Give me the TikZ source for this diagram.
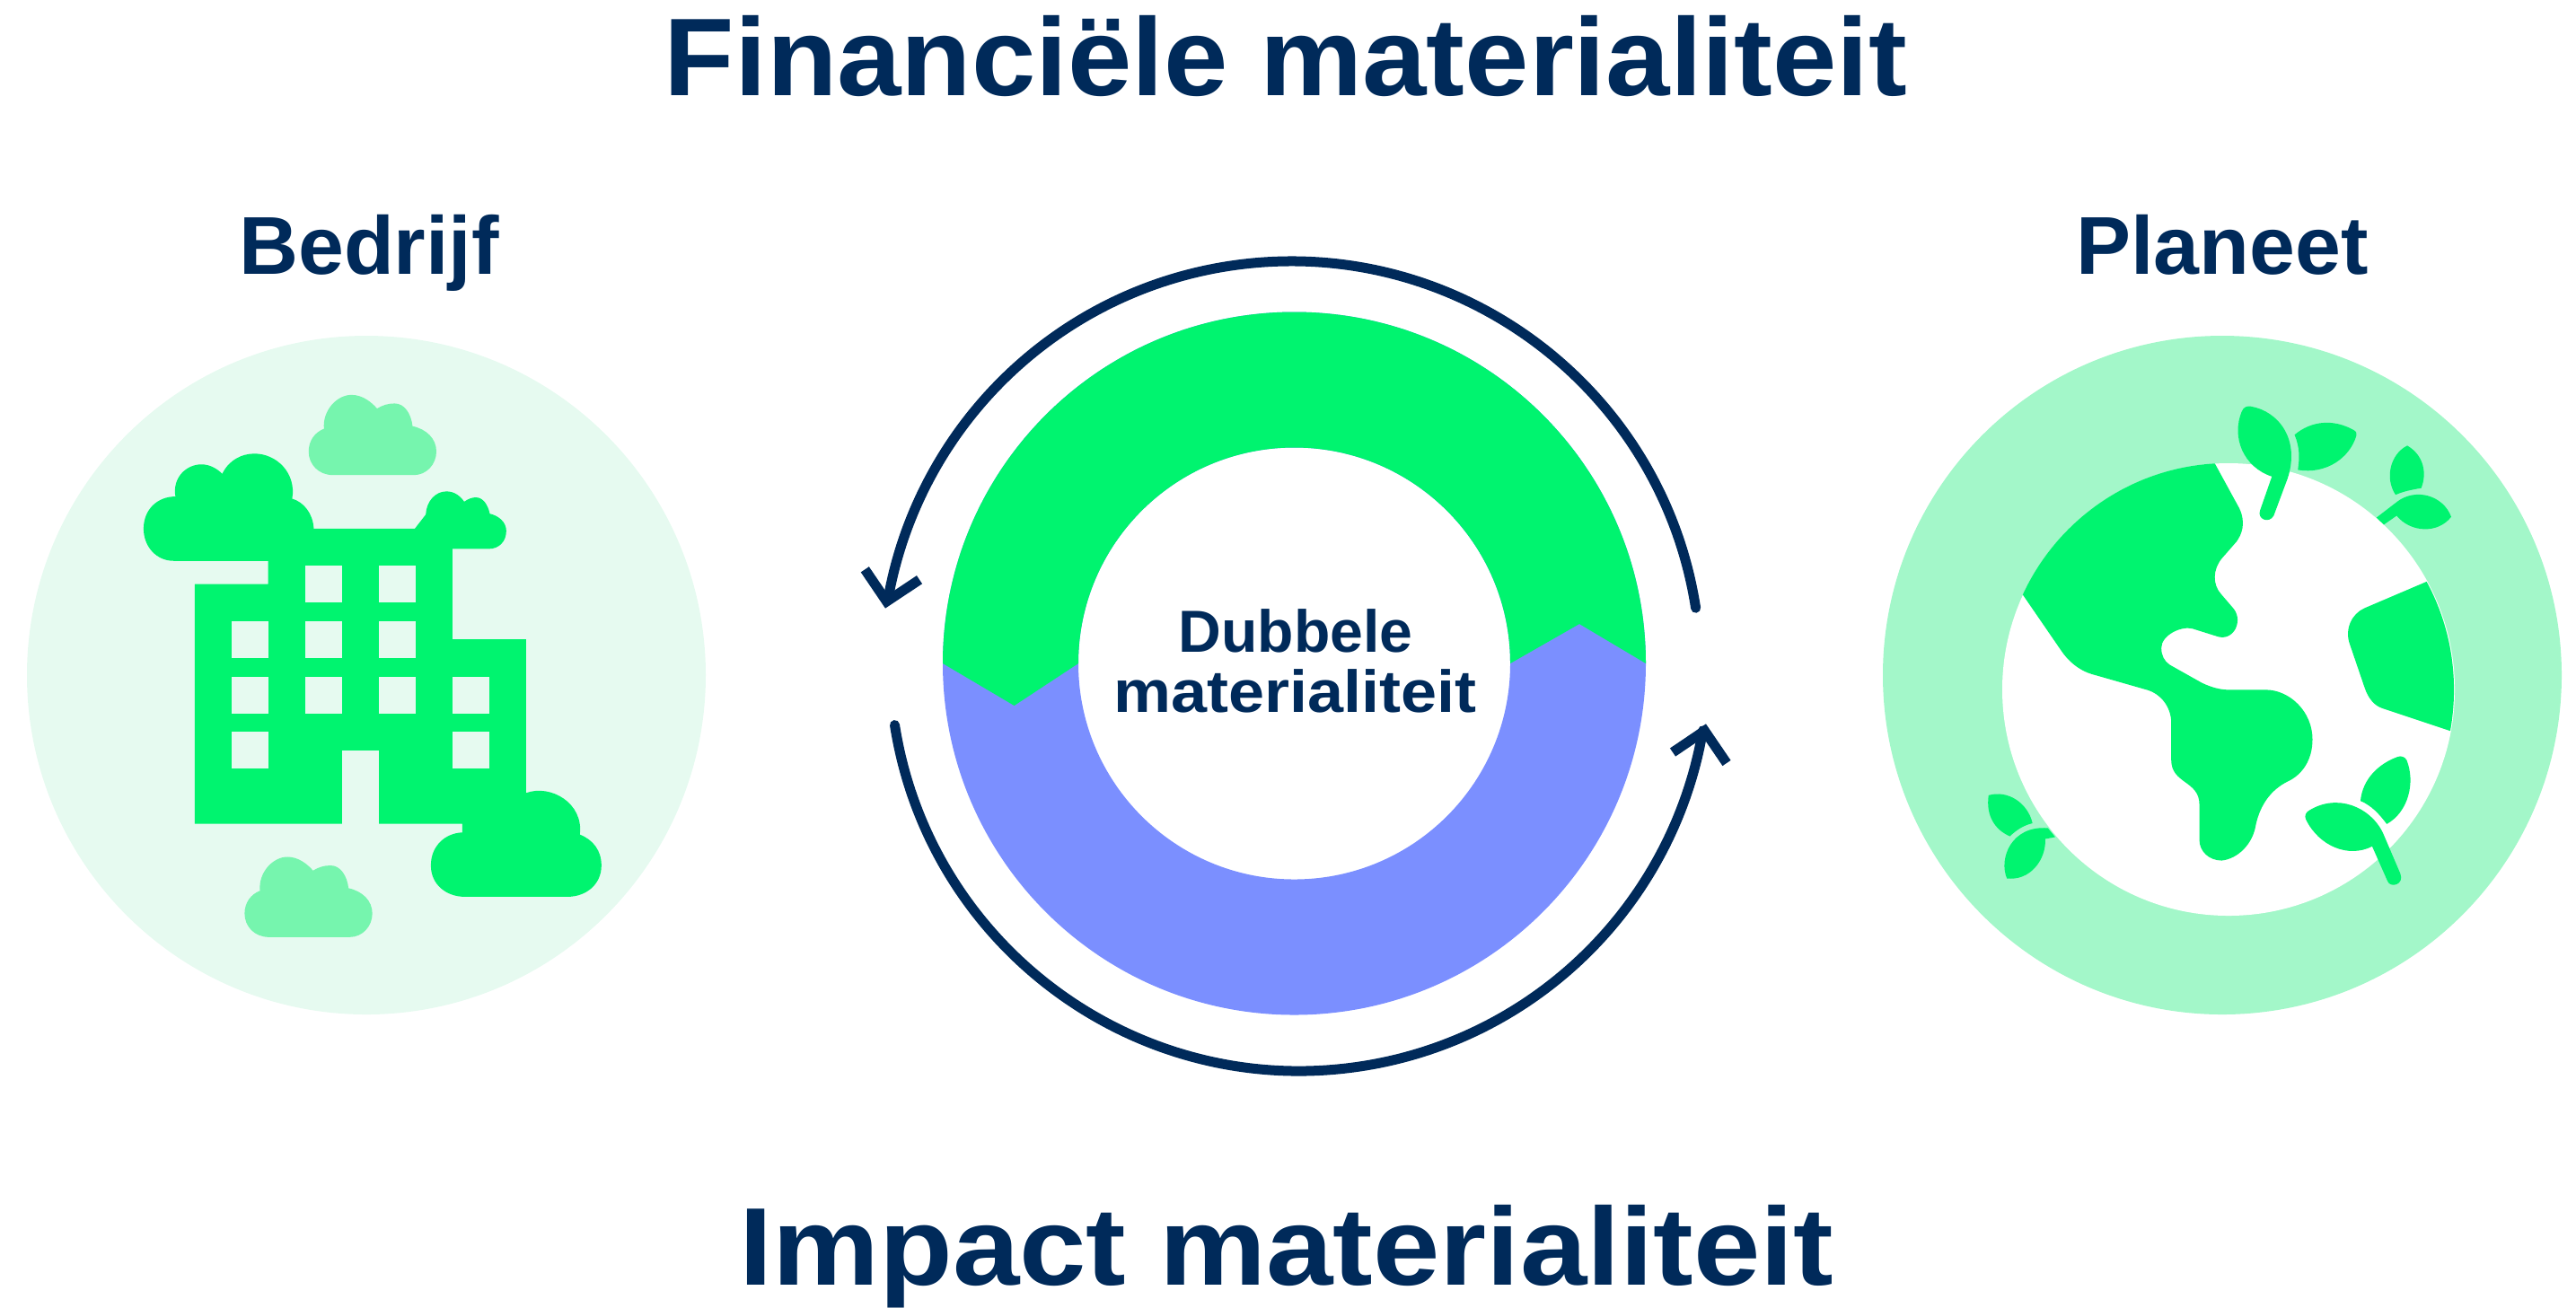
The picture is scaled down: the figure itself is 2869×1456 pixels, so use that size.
\documentclass[tikz,border=0pt]{standalone}
\usepackage{fontspec}
\setmainfont{Liberation Sans}
\definecolor{navy}{HTML}{002A5A}
\definecolor{brightgreen}{HTML}{00F46F}
\definecolor{palegreen}{HTML}{E6FAF0}
\definecolor{softgreen}{HTML}{A3F7C9}
\definecolor{cloudgreen}{HTML}{76F5AE}
\definecolor{ringblue}{HTML}{7B8FFF}
\tikzset{
  title/.style={anchor=base, text=navy, font=\fontsize{35}{40}\selectfont\bfseries\addfontfeature{FakeStretch=#1}},
  sidelabel/.style={anchor=base, text=navy, font=\fontsize{26}{30}\selectfont\bfseries},
  centerlabel/.style={anchor=base, text=navy, font=\fontsize{18.8}{22}\selectfont\bfseries\addfontfeature{FakeStretch=#1}},
  cycleline/.style={draw=navy, line width=0.11cm, line cap=round},
  cyclehead/.style={draw=navy, line width=0.11cm, line join=miter, miter limit=10},
}
\begin{document}
\begin{tikzpicture}[x=0.01cm,y=-0.01cm]
\useasboundingbox (0,0) rectangle (2869,1456);
% labels
\node[title=1.043] (financial) at (1432,106) {Financiële materialiteit};
\node[title=1.087] (impact) at (1433,1431) {Impact materialiteit};
\node[sidelabel] (company) at (411,305) {Bedrijf};
\node[sidelabel] (planet) at (2475,305) {Planeet};
% ring
\coordinate (ringcenter) at (1441.5,739);
\fill[ringblue, even odd rule] (ringcenter) circle (391.5) (ringcenter) circle (240.5);
\fill[brightgreen] (1050,739) arc[start angle=180, end angle=360, radius=391.5]
  -- (1759,695) -- (1682,739) arc[start angle=360, end angle=180, radius=240.5]
  -- (1129.6,786) -- cycle;
\node[centerlabel=1] (double) at (1443,726) {Dubbele};
\node[centerlabel=1.089] (material) at (1442.5,793) {materialiteit};
% arrows
\coordinate (uppercenter) at (1438,747);
\coordinate (lowercenter) at (1447,737);
\draw[cycleline] (uppercenter) ++(351.2:456) arc[start angle=351.2, end angle=190, radius=456];
\draw[cyclehead] (963.3,634.3) -- (987.5,670) -- (1024,645.7);
\draw[cycleline] (lowercenter) ++(171.1:456) arc[start angle=171.1, end angle=9.7, radius=456];
\draw[cyclehead] (1863,838) -- (1898.5,814) -- (1923,850);
% company
\fill[palegreen] (408,752) circle (378);
\begin{scope}[shift={(100,350)}, x=0.0040816cm, y=-0.004783cm]
\fill[brightgreen] (230,575) .. controls (180,575) and (147,540) .. (147,500)
  .. controls (147,455) and (185,425) .. (234,425) .. controls (225,380) and (265,350) .. (305,350)
  .. controls (330,350) and (350,362) .. (362,372) .. controls (380,340) and (415,325) .. (450,325)
  .. controls (510,325) and (565,370) .. (553,430) .. controls (585,438) and (610,465) .. (612,500)
  -- (888,500) -- (918,467) .. controls (920,435) and (945,413) .. (975,413)
  .. controls (995,413) and (1012,423) .. (1023,437) .. controls (1035,430) and (1045,427) .. (1055,427)
  .. controls (1075,427) and (1088,445) .. (1093,465) .. controls (1118,470) and (1138,485) .. (1138,505)
  .. controls (1138,530) and (1118,547) .. (1090,547) -- (991,547) -- (991,758) -- (1192,758) -- (1192,1116)
  .. controls (1260,1095) and (1350,1140) .. (1339,1213) .. controls (1375,1225) and (1398,1250) .. (1398,1285)
  .. controls (1398,1330) and (1355,1358) .. (1305,1358) -- (1025,1358)
  .. controls (975,1358) and (932,1330) .. (932,1285) .. controls (932,1240) and (970,1210) .. (1018,1208)
  -- (1018,1188) -- (790,1188) -- (790,1017) -- (689,1017) -- (689,1188) -- (287,1188) -- (287,629)
  -- (487,629) -- (487,575) -- cycle;
\foreach \xa/\ya in {387/715,387/845,387/973,589/586,589/715,589/845,790/586,790/715,790/845,991/845,991/973}
  \fill[palegreen] (\xa,\ya) rectangle ++(100,85.5);
\foreach \xa/\ya in {0/0,-175/1077}
  \fill[cloudgreen, shift={(\xa,\ya)}] (665,375) .. controls (625,375) and (598,350) .. (598,320)
    .. controls (598,295) and (615,275) .. (640,267) .. controls (635,225) and (675,188) .. (715,188)
    .. controls (745,188) and (770,205) .. (785,220) .. controls (800,212) and (815,208) .. (833,208)
    .. controls (860,208) and (878,232) .. (882,261) .. controls (920,268) and (947,290) .. (947,320)
    .. controls (947,350) and (920,375) .. (885,375) -- cycle;
\end{scope}
% planet
\fill[softgreen] (2475,752) circle (378);
\fill[white] (2482,768) circle (252);
\begin{scope}[shift={(2130,400)}, x=0.0040816cm, y=-0.004145cm]
\begin{scope}
\clip (862,887) ellipse [x radius=617.5, y radius=608];
\fill[brightgreen] (800,233) -- (893,400) .. controls (912,440) and (900,470) .. (885,490) -- (845,535)
  .. controls (820,565) and (820,605) .. (843,630) -- (878,670) .. controls (905,705) and (875,760) .. (830,743)
  -- (765,723) .. controls (735,715) and (680,740) .. (680,775) .. controls (680,795) and (688,810) .. (703,820)
  -- (790,868) .. controls (815,880) and (840,887) .. (865,887) -- (965,887)
  .. controls (1030,887) and (1093,945) .. (1093,1020) .. controls (1093,1075) and (1065,1115) .. (1025,1133)
  .. controls (980,1155) and (950,1195) .. (938,1250) .. controls (930,1300) and (890,1340) .. (845,1345)
  .. controls (810,1345) and (784,1320) .. (784,1290) -- (784,1195) .. controls (784,1130) and (707,1140) .. (707,1075)
  -- (707,975) .. controls (707,935) and (680,898) .. (640,887) -- (490,845)
  .. controls (455,835) and (425,810) .. (405,780) -- (265,580) -- (400,300) -- cycle;
\fill[brightgreen] (1500,557) -- (1235,668) .. controls (1200,683) and (1180,725) .. (1195,765) -- (1235,880)
  .. controls (1245,910) and (1262,930) .. (1285,937) -- (1600,1040) -- (1600,540) -- cycle;
\end{scope}
% leaves
\fill[brightgreen] (982,315) .. controls (905,290) and (870,210) .. (900,140) .. controls (905,128) and (915,125) .. (925,127)
  .. controls (1000,140) and (1060,215) .. (1025,320) -- (987,420) .. controls (975,442) and (940,430) .. (950,405) -- cycle;
\fill[brightgreen] (1044,203) .. controls (1090,165) and (1150,160) .. (1205,190) .. controls (1212,194) and (1215,198) .. (1213,205)
  .. controls (1195,265) and (1130,310) .. (1053,297) .. controls (1058,265) and (1058,235) .. (1044,203) -- cycle;
\fill[brightgreen] (1352,232) .. controls (1400,260) and (1405,310) .. (1390,346) .. controls (1365,350) and (1340,355) .. (1320,364)
  .. controls (1290,320) and (1305,255) .. (1352,232) -- cycle;
\fill[brightgreen] (1268,425) -- (1325,382) .. controls (1375,345) and (1450,365) .. (1472,423)
  .. controls (1435,470) and (1360,465) .. (1323,420) -- (1288,444) -- cycle;
\fill[brightgreen] (1224,1185) .. controls (1230,1125) and (1275,1085) .. (1325,1067) .. controls (1335,1063) and (1345,1067) .. (1350,1075)
  .. controls (1375,1135) and (1355,1215) .. (1296,1247) .. controls (1275,1220) and (1255,1198) .. (1224,1185) -- cycle;
\fill[brightgreen] (1075,1235) .. controls (1070,1225) and (1075,1215) .. (1085,1210) .. controls (1160,1165) and (1250,1200) .. (1285,1270)
  -- (1333,1380) .. controls (1345,1410) and (1305,1420) .. (1298,1400) -- (1256,1307)
  .. controls (1190,1340) and (1110,1305) .. (1075,1235) -- cycle;
\fill[brightgreen] (208,1170) .. controls (260,1155) and (315,1190) .. (328,1245) .. controls (305,1250) and (285,1262) .. (266,1280)
  .. controls (225,1262) and (200,1225) .. (208,1170) -- cycle;
\fill[brightgreen] (258,1393) .. controls (235,1340) and (270,1250) .. (370,1258) -- (390,1282) -- (363,1287)
  .. controls (365,1345) and (320,1400) .. (258,1393) -- cycle;
\end{scope}
\end{tikzpicture}
\end{document}
